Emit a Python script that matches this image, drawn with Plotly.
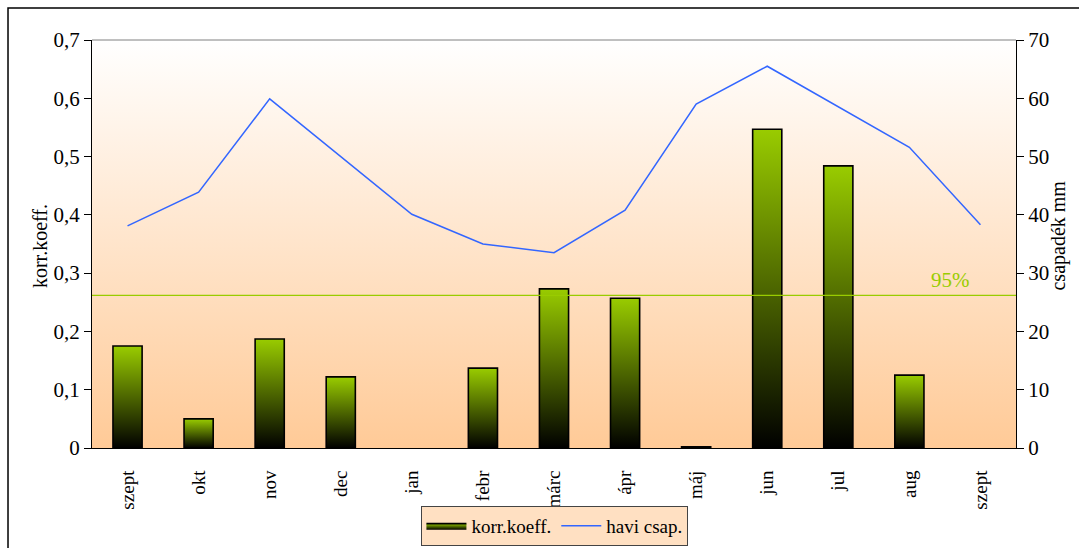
import plotly.graph_objects as go

# Monthly data (hydrological year, Sept -> Sept)
months = ["szept", "okt", "nov", "dec", "jan", "febr", "márc", "ápr", "máj", "jun", "jul", "aug", "szept"]
korr_koeff = [0.175, 0.050, 0.187, 0.122, 0.0, 0.137, 0.273, 0.257, 0.002, 0.547, 0.484, 0.125, 0.0]
havi_csap = [38.1, 43.9, 59.9, 50.0, 40.1, 35.0, 33.5, 40.8, 59.0, 65.5, 58.5, 51.6, 38.3]
signif_95 = 0.262

FONT = "Liberation Serif"
n = len(months)
xs = list(range(n))
half_w = 0.205

fig = go.Figure()

# Plot-area background: white at top fading to peach at bottom
fig.add_trace(go.Scatter(
    x=[-0.5, n - 0.5, n - 0.5, -0.5, -0.5], y=[0, 0, 0.7, 0.7, 0],
    mode="lines", line=dict(width=0), fill="toself",
    fillgradient=dict(type="vertical", colorscale=[[0, "#FFCA97"], [1, "#FFFFFF"]]),
    hoverinfo="skip", showlegend=False,
))

# Correlation bars with a black -> yellow-green vertical gradient
first = True
for i, v in zip(xs, korr_koeff):
    if v <= 0:
        continue
    fig.add_trace(go.Scatter(
        x=[i - half_w, i + half_w, i + half_w, i - half_w, i - half_w],
        y=[0, 0, v, v, 0],
        mode="lines", line=dict(color="#000000", width=1.6),
        fill="toself",
        fillgradient=dict(type="vertical", colorscale=[[0, "#000000"], [1, "#99CC00"]]),
        name="korr.koeff.", legendgroup="korr", showlegend=first,
    ))
    first = False

# Monthly precipitation on the secondary axis
fig.add_trace(go.Scatter(
    x=xs, y=havi_csap, yaxis="y2", mode="lines",
    line=dict(color="#3366FF", width=1.5), name="havi csap.",
))

axis_common = dict(showgrid=False, zeroline=False, linecolor="#000000", linewidth=1,
                   tickcolor="#000000", ticklen=7, tickwidth=1, automargin=False,
                   tickfont=dict(family=FONT, size=21, color="#000000"))
boundaries = [i - 0.5 for i in range(n + 1)]

fig.update_layout(
    width=1079, height=548,
    margin=dict(l=92, r=63, t=40, b=100),
    paper_bgcolor="#FFFFFF", plot_bgcolor="rgba(0,0,0,0)",
    separators=", ",
    font=dict(family=FONT, color="#000000"),
    xaxis=dict(range=[-0.5, n - 0.5], tickmode="array", tickvals=xs, ticktext=months,
               tickangle=-90, ticks="outside", ticklen=14, tickcolor="rgba(0,0,0,0)",
               showline=True, linecolor="#000000", automargin=False,
               showgrid=False, zeroline=False,
               tickfont=dict(family=FONT, size=19, color="#000000")),
    xaxis3=dict(range=[-0.5, n - 0.5], overlaying="x", anchor="y", side="bottom",
                tickmode="array", tickvals=boundaries, automargin=False,
                ticks="outside", showticklabels=False, showgrid=False, zeroline=False,
                showline=False, ticklen=7, tickcolor="#000000"),
    xaxis4=dict(range=[-0.5, n - 0.5], overlaying="x", anchor="y", side="bottom",
                tickmode="array", tickvals=boundaries, automargin=False,
                ticks="inside", showticklabels=False, showgrid=False, zeroline=False,
                showline=False, ticklen=6, tickcolor="#000000"),
    yaxis=dict(range=[0, 0.7], dtick=0.1, ticks="outside", showline=True,
               tickformat=".1~f", **axis_common),
    yaxis2=dict(range=[0, 70], dtick=10, ticks="outside", showline=True,
                overlaying="y", side="right", anchor="x", **axis_common),
    yaxis3=dict(range=[0, 0.7], dtick=0.1, overlaying="y", side="left", anchor="x",
                ticks="inside", ticklen=6, tickcolor="#000000", showticklabels=False,
                showgrid=False, zeroline=False, showline=False, automargin=False),
    yaxis4=dict(range=[0, 70], dtick=10, overlaying="y", side="right", anchor="x",
                ticks="inside", ticklen=6, tickcolor="#000000", showticklabels=False,
                showgrid=False, zeroline=False, showline=False, automargin=False),
    legend=dict(orientation="h", x=0.501, xanchor="center",
                yref="container", y=0.004, yanchor="bottom",
                bgcolor="#FFE0C2", bordercolor="#444444", borderwidth=1,
                font=dict(family=FONT, size=19, color="#000000"),
                itemwidth=40, tracegroupgap=0),
)

# Axis titles
fig.add_annotation(xref="paper", yref="paper", x=-0.0703, y=0.495, text="korr.koeff.",
                   textangle=-90, showarrow=False,
                   font=dict(family=FONT, size=20, color="#000000"))
fig.add_annotation(xref="paper", yref="paper", x=1.0606, y=0.522, text="csapadék mm",
                   textangle=-90, showarrow=False,
                   font=dict(family=FONT, size=20, color="#000000"))

# Top edge of the plot area
fig.add_shape(type="line", xref="x domain", yref="y domain", x0=0, x1=1, y0=1, y1=1,
              line=dict(color="#808080", width=1))
# 95% significance level
fig.add_shape(type="line", xref="x domain", yref="y", x0=0, x1=1, y0=signif_95, y1=signif_95,
              line=dict(color="#99CC00", width=1.3))
fig.add_annotation(x=11.58, y=signif_95, xref="x", yref="y", text="95%", showarrow=False,
                   yanchor="bottom", yshift=1,
                   font=dict(family=FONT, size=21, color="#99CC00"))
# Chart frame
fig.add_shape(type="rect", xref="paper", yref="paper", x0=-0.0909, x1=1.2, y0=-0.5, y1=1.0784,
              line=dict(color="#000000", width=1.5), layer="above")

fig.write_html("out.html")
